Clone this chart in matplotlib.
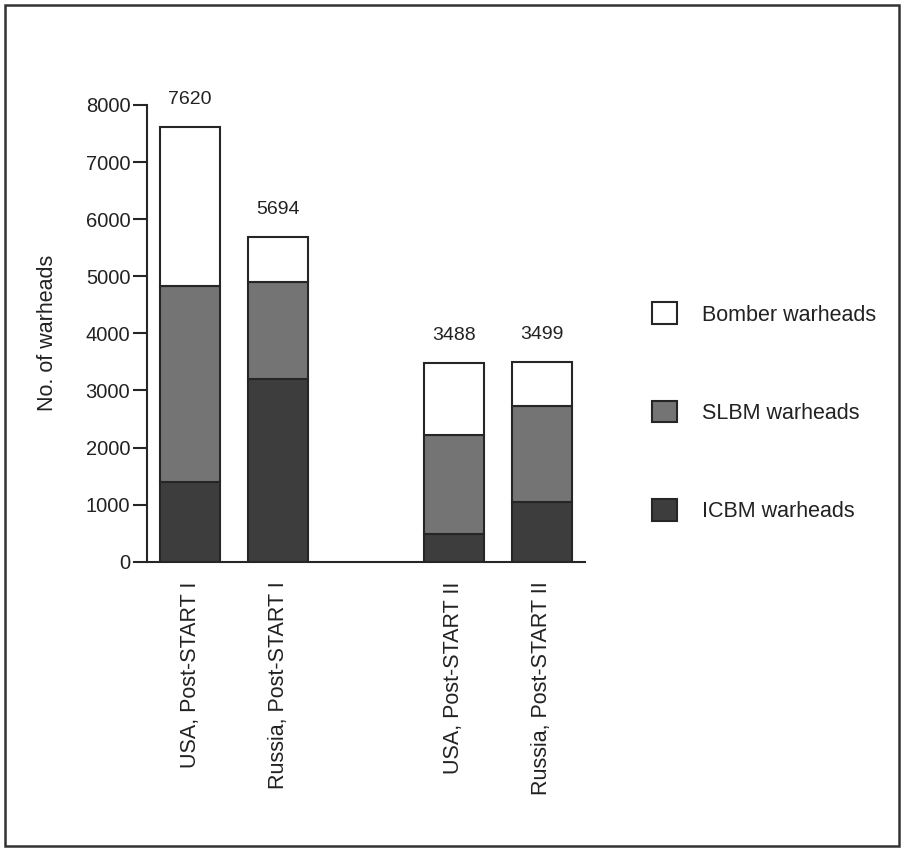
import numpy as np
import matplotlib.pyplot as plt
from matplotlib.patches import Rectangle

plt.rcParams['font.family'] = ['Liberation Sans', 'DejaVu Sans']

categories = ['USA, Post-START I', 'Russia, Post-START I',
              'USA, Post-START II', 'Russia, Post-START II']
icbm = [1400, 3200, 480, 1040]
slbm = [3430, 1700, 1740, 1690]
bomber = [2790, 794, 1268, 769]
totals = [7620, 5694, 3488, 3499]

positions = [0, 1, 3, 4]
edge = '#262626'
txt = '#222222'
colors = {'ICBM warheads': '#3d3d3d', 'SLBM warheads': '#747474', 'Bomber warheads': 'white'}

fig = plt.figure(figsize=(9.04, 8.52), dpi=100)
ax = fig.add_axes([0.1626, 0.3407, 0.4844, 0.5361])

icbm = np.array(icbm)
slbm = np.array(slbm)
bomber = np.array(bomber)
w = 0.68
b1 = ax.bar(positions, icbm, w, color=colors['ICBM warheads'], edgecolor=edge, lw=1.5,
            label='ICBM warheads')
b2 = ax.bar(positions, slbm, w, bottom=icbm, color=colors['SLBM warheads'], edgecolor=edge,
            lw=1.5, label='SLBM warheads')
b3 = ax.bar(positions, bomber, w, bottom=icbm + slbm, color=colors['Bomber warheads'],
            edgecolor=edge, lw=1.5, label='Bomber warheads')

for x, t in zip(positions, totals):
    ax.text(x, t + 480, str(t), ha='center', va='center', fontsize=14, color=txt)

ax.set_xlim(-0.49, 4.49)
ax.set_ylim(0, 8000)
ax.set_yticks(np.arange(0, 8001, 1000))
ax.tick_params(axis='y', length=10, width=1.5, labelsize=14.5, labelcolor=txt,
               color=edge, pad=2)
ax.set_xticks(positions)
ax.set_xticklabels(categories, rotation=90, fontsize=15.5, color=txt)
ax.tick_params(axis='x', length=0, pad=14)
ax.set_ylabel('No. of warheads', fontsize=15.5, color=txt, labelpad=20)
for s in ['top', 'right']:
    ax.spines[s].set_visible(False)
for s in ['left', 'bottom']:
    ax.spines[s].set_linewidth(1.5)
    ax.spines[s].set_color(edge)

leg = ax.legend(handles=[b3, b2, b1], loc='upper left', bbox_to_anchor=(1.11, 0.61),
                frameon=False, fontsize=15.5, handlelength=1.16, handleheight=1.16,
                labelspacing=3.5, handletextpad=1.15)
for t in leg.get_texts():
    t.set_color(txt)

fig.patches.append(Rectangle((0.006, 0.007), 0.989, 0.987, transform=fig.transFigure,
                             fill=False, edgecolor='#333333', lw=1.8))

fig.savefig('out.png', dpi=100)
